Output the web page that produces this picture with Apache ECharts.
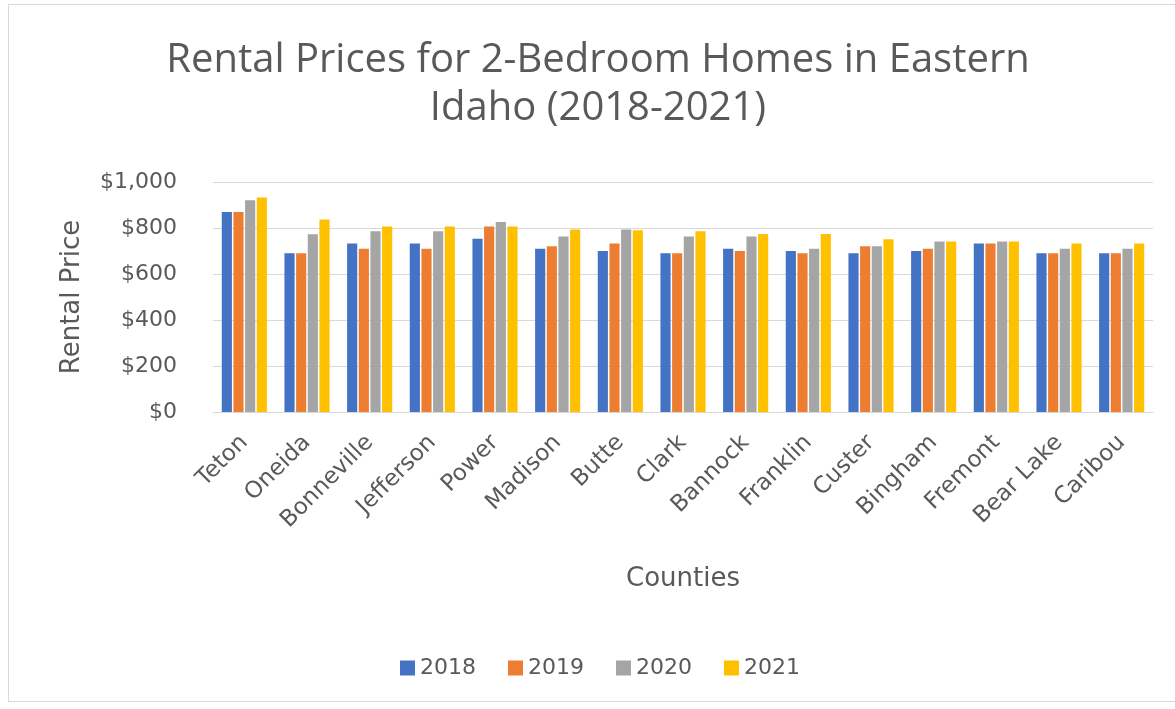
<!DOCTYPE html>
<html>
<head>
<meta charset="utf-8">
<script src="https://cdn.jsdelivr.net/npm/echarts@6/dist/echarts.min.js"></script>
<style>
  html, body { margin: 0; padding: 0; background: #fff; }
  #frame { position: absolute; left: 8px; top: 4px; width: 1180px; height: 698px; border: 1px solid #d9d9d9; box-sizing: border-box; }
  #chart { position: absolute; left: 0; top: 0; width: 1175px; height: 709px; }
</style>
</head>
<body>
<div id="frame"></div>
<div id="chart"></div>
<script>
const counties = ['Teton', 'Oneida', 'Bonneville', 'Jefferson', 'Power', 'Madison', 'Butte', 'Clark',
  'Bannock', 'Franklin', 'Custer', 'Bingham', 'Fremont', 'Bear Lake', 'Caribou'];
const years = ['2018', '2019', '2020', '2021'];
const rent2018 = [870, 690, 733, 733, 753, 710, 700, 690, 710, 700, 690, 700, 733, 690, 690];
const rent2019 = [870, 690, 710, 710, 806, 721, 733, 690, 700, 690, 721, 710, 733, 690, 690];
const rent2020 = [921, 773, 786, 786, 826, 763, 794, 763, 763, 710, 721, 741, 741, 710, 710];
const rent2021 = [933, 837, 806, 806, 806, 794, 790, 786, 774, 774, 751, 741, 741, 733, 733];
const colors = ['#4472C4', '#ED7D31', '#A5A5A5', '#FFC000'];

const titleFont = 'Open Sans';
const font = 'DejaVu Sans';
const textColor = '#595959';
const chart = echarts.init(document.getElementById('chart'));

const seriesData = [rent2018, rent2019, rent2020, rent2021];

chart.setOption({
  animation: false,
  color: colors,
  graphic: [{
    type: 'text',
    x: 598,
    y: 85,
    style: {
      text: 'Rental Prices for 2-Bedroom Homes in Eastern\nIdaho (2018-2021)',
      font: '40px "' + titleFont + '"',
      fill: textColor,
      align: 'center',
      verticalAlign: 'middle',
      lineHeight: 48
    }
  }],
  legend: {
    top: 652,
    left: 395,
    itemWidth: 15,
    itemHeight: 15,
    itemGap: 32,
    icon: 'rect',
    textStyle: { fontFamily: font, fontSize: 22, color: textColor },
    data: years
  },
  grid: { left: 213, right: 22, top: 182, bottom: 297, containLabel: false },
  xAxis: {
    type: 'category',
    data: counties,
    name: 'Counties',
    nameLocation: 'middle',
    nameGap: 154,
    nameTextStyle: { fontFamily: font, fontSize: 26, color: textColor },
    axisLine: { lineStyle: { color: '#d9d9d9' } },
    axisTick: { show: false },
    axisLabel: { rotate: 45, margin: 27, fontFamily: font, fontSize: 23, color: textColor, interval: 0 }
  },
  yAxis: {
    type: 'value',
    min: 0,
    max: 1000,
    interval: 200,
    name: 'Rental Price',
    nameLocation: 'middle',
    nameGap: 128,
    nameTextStyle: { fontFamily: font, fontSize: 26, color: textColor },
    axisLine: { show: false },
    axisTick: { show: false },
    splitLine: { lineStyle: { color: '#d9d9d9' } },
    axisLabel: {
      margin: 36,
      fontFamily: font,
      fontSize: 22,
      color: textColor,
      formatter: v => '$' + v.toLocaleString('en-US')
    }
  },
  series: years.map((y, i) => ({
    name: y,
    type: 'bar',
    data: seriesData[i],
    barGap: '15%',
    barCategoryGap: '28%'
  }))
});
</script>
</body>
</html>
